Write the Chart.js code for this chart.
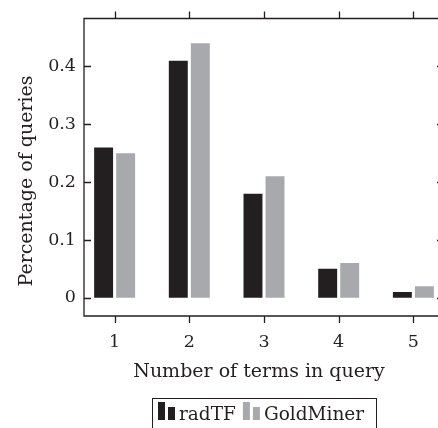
<!DOCTYPE html>
<html>
<head>
<meta charset="utf-8">
<script src="https://cdn.jsdelivr.net/npm/chart.js@4/dist/chart.umd.min.js"></script>
<style>
html,body{margin:0;padding:0;background:#fff;overflow:hidden;width:438px;height:428px;}
#wrap{position:absolute;left:0;top:0;width:460px;height:428px;}
</style>
</head>
<body>
<div id="wrap"><canvas id="c"></canvas></div>
<script>
const categories = [1, 2, 3, 4, 5];
const radTF = [0.26, 0.41, 0.18, 0.05, 0.01];
const goldMiner = [0.25, 0.44, 0.21, 0.06, 0.02];
const yTicks = [0, 0.1, 0.2, 0.3, 0.4];
const seriesNames = ['radTF', 'GoldMiner'];
const xTitle = 'Number of terms in query';
const yTitle = 'Percentage of queries';

const FONT = '"DejaVu Serif", serif';
const INK = '#231f20';
const GRAY = '#a7a9ac';

const framePlugin = {
  id: 'frame',
  afterDatasetsDraw(chart) {
    const ctx = chart.ctx, a = chart.chartArea;
    const xs = chart.scales.x, ys = chart.scales.y;
    ctx.save();
    ctx.strokeStyle = INK;
    ctx.lineWidth = 1.3;
    ctx.beginPath();
    ctx.moveTo(a.right, a.top); ctx.lineTo(a.left, a.top); ctx.lineTo(a.left, a.bottom); ctx.lineTo(a.right, a.bottom);
    categories.forEach(c => {
      const px = Math.round(xs.getPixelForValue(c)) + 0.5;
      ctx.moveTo(px, a.top); ctx.lineTo(px, a.top - 7);
      ctx.moveTo(px, a.bottom); ctx.lineTo(px, a.bottom + 7);
    });
    yTicks.forEach(v => {
      const py = Math.round(ys.getPixelForValue(v)) + 0.5;
      ctx.moveTo(a.left, py); ctx.lineTo(a.left + 7, py);
      ctx.moveTo(a.right, py); ctx.lineTo(a.right - 7, py);
    });
    ctx.stroke();
    ctx.restore();
  },
  afterDraw(chart) {
    const ctx = chart.ctx;
    ctx.save();
    ctx.fillStyle = INK;
    ctx.font = '19px ' + FONT;
    ctx.textAlign = 'center';
    ctx.textBaseline = 'alphabetic';
    ctx.fillText(xTitle, 259, 377);
    ctx.save();
    ctx.translate(32, 181);
    ctx.rotate(-Math.PI / 2);
    ctx.fillText(yTitle, 0, 0);
    ctx.restore();
    // legend
    ctx.strokeStyle = INK;
    ctx.lineWidth = 1;
    ctx.strokeRect(152.5, 398.5, 224, 40);
    ctx.font = '18.5px ' + FONT;
    ctx.textAlign = 'left';
    let x = 158;
    chart.data.datasets.forEach((ds) => {
      ctx.fillStyle = ds.backgroundColor;
      ctx.fillRect(x, 402, 7, 18);
      ctx.fillRect(x + 10, 407, 7, 13);
      ctx.fillStyle = INK;
      ctx.fillText(ds.label, x + 21, 420);
      x += 21 + ctx.measureText(ds.label).width + 7;
    });
    ctx.restore();
  }
};

new Chart(document.getElementById('c'), {
  type: 'bar',
  data: {
    datasets: [
      { label: seriesNames[0], data: categories.map((c, i) => ({ x: c, y: radTF[i] })), backgroundColor: INK, borderWidth: 0 },
      { label: seriesNames[1], data: categories.map((c, i) => ({ x: c, y: goldMiner[i] })), backgroundColor: GRAY, borderWidth: 0 }
    ]
  },
  options: {
    responsive: true,
    maintainAspectRatio: false,
    animation: false,
    categoryPercentage: 0.59,
    barPercentage: 0.86,
    layout: { padding: { left: 0, right: 16, top: 17, bottom: 0 } },
    plugins: { legend: { display: false }, tooltip: { enabled: false } },
    scales: {
      x: {
        type: 'linear', min: 0.59, max: 5.41, offset: false,
        afterBuildTicks: s => { s.ticks = categories.map(v => ({ value: v })); },
        afterFit: s => { s.height = 112; },
        grid: { display: false, drawTicks: false },
        border: { display: false },
        ticks: { color: INK, font: { family: FONT, size: 17.5 }, padding: 16, callback: v => String(v) }
      },
      y: {
        min: -0.0315, max: 0.483,
        afterBuildTicks: s => { s.ticks = yTicks.map(v => ({ value: v })); },
        afterFit: s => { s.width = 84; },
        grid: { display: false, drawTicks: false },
        border: { display: false },
        ticks: { color: INK, font: { family: FONT, size: 17.5 }, padding: 8, callback: v => String(v) }
      }
    }
  },
  plugins: [framePlugin]
});
</script>
</body>
</html>
